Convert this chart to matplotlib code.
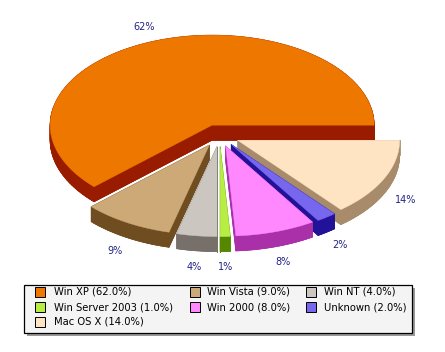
import numpy as np
import matplotlib
matplotlib.use("Agg")
import matplotlib.pyplot as plt
from matplotlib.patches import Polygon, Rectangle
from matplotlib.collections import PolyCollection

categories = ["Win XP", "Win Vista", "Win NT", "Win Server 2003", "Win 2000", "Unknown", "Mac OS X"]
values = [62.0, 9.0, 4.0, 1.0, 8.0, 2.0, 14.0]
top_colors = ["#EE7700", "#CCA977", "#CCC6C0", "#B8EE44", "#FF88FF", "#7766EE", "#FFE4C4"]
side_colors = ["#991C00", "#704D20", "#77706A", "#558800", "#AA30AA", "#221199", "#A88B6A"]
pct_labels = ["62%", "9%", "4%", "1%", "8%", "2%", "14%"]

W, H = 445, 352
fig = plt.figure(figsize=(W / 100, H / 100), dpi=100)
ax = fig.add_axes([0, 0, 1, 1])
ax.set_xlim(0, W)
ax.set_ylim(H, 0)
ax.axis("off")

cx, cy = 219.5, 135.5
rx, ry = 162.0, 90.0
ratio = ry / rx
explode = 20.0
depth = 15.0

total = sum(values)
fracs = np.array(values) / total
starts = np.concatenate([[0], np.cumsum(fracs)[:-1]]) * 2 * np.pi
ends = np.cumsum(fracs) * 2 * np.pi
mids = (starts + ends) / 2

order = np.argsort(-np.sin(mids))
for i in order:
    t0, t1, m = starts[i], ends[i], mids[i]
    ox = cx + explode * np.cos(m)
    oy = cy - explode * ratio * np.sin(m)
    n = max(3, int((t1 - t0) / (2 * np.pi) * 300))
    th = np.linspace(t0, t1, n)
    xs = ox + rx * np.cos(th)
    ys = oy - ry * np.sin(th)
    top = np.vstack([[ox, oy], np.column_stack([xs, ys])])
    quads = []
    for k in range(len(top)):
        p = top[k]
        q = top[(k + 1) % len(top)]
        quads.append([p, q, q + [0, depth], p + [0, depth]])
    bottom = top + [0, depth]
    ax.add_patch(Polygon(bottom, closed=True, facecolor=side_colors[i], edgecolor=side_colors[i], lw=0.5))
    ax.add_collection(PolyCollection(quads, facecolors=side_colors[i], edgecolors=side_colors[i], linewidths=0.5))
    ax.add_patch(Polygon(top, closed=True, facecolor=top_colors[i], edgecolor=top_colors[i], lw=0.3))

for i in range(len(values)):
    m = mids[i]
    lx = cx + 1.27 * rx * np.cos(m)
    ly = cy - 1.30 * ry * np.sin(m) + (depth if np.sin(m) < 0 else 0)
    ax.text(lx, ly, pct_labels[i], ha="center", va="center", fontsize=7, color="#222288")

# legend (drawn manually, row-major in three columns)
bx0, by0, bx1, by1 = 24, 285, 412, 333
shadow = 3
ax.add_patch(Rectangle((bx0 + shadow, by0 + shadow), bx1 - bx0, by1 - by0,
                       facecolor="#999999", edgecolor="none"))
ax.add_patch(Rectangle((bx0, by0), bx1 - bx0, by1 - by0,
                       facecolor="#F4F4F4", edgecolor="black", lw=0.9))
col_marker_x = [35, 190, 306]
col_text_x = [54, 207, 324]
row_top = [287, 302, 316.5]
msize = 10
for i in range(len(values)):
    r, c = divmod(i, 3)
    ax.add_patch(Rectangle((col_marker_x[c], row_top[r]), msize, msize,
                           facecolor=top_colors[i], edgecolor="black", lw=0.7))
    ax.text(col_text_x[c], row_top[r] + msize / 2, f"{categories[i]} ({values[i]:.1f}%)",
            ha="left", va="center", fontsize=7.2, color="black")

fig.savefig("out.png", dpi=100)
